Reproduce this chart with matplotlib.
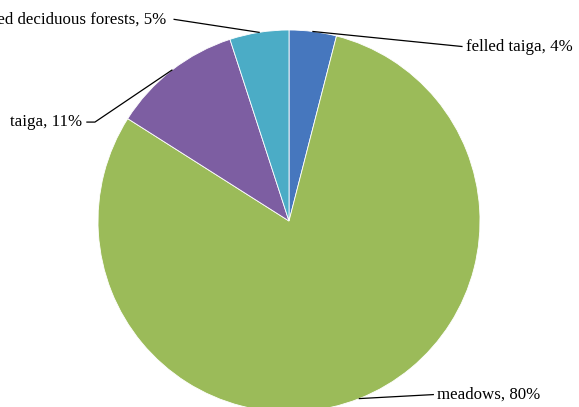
import numpy as np
import matplotlib
matplotlib.use("Agg")
import matplotlib.pyplot as plt

labels = ['felled taiga', 'meadows', 'taiga', 'mixed deciduous forests']
shares = [4, 80, 11, 5]
colors = ['#4677BE', '#9BBB59', '#7D5EA2', '#4BACC6']

# text offsets (pixels) from the slice edge, and alignment
label_pos = [(153, -15, 'left'), (78, 4, 'left'), (-87, -52, 'right'), (-90, 13, 'right')]

W, H = 579, 407
fig = plt.figure(figsize=(W / 100, H / 100), dpi=100)
ax = fig.add_axes([0, 0, 1, 1])
ax.set_xlim(0, W)
ax.set_ylim(0, H)
ax.set_aspect('equal')
ax.axis('off')

cx, cy, r = 289, H - 221, 191
wedges, _ = ax.pie(shares, colors=colors, startangle=90, counterclock=False,
                   center=(cx, cy), radius=r,
                   wedgeprops=dict(edgecolor='white', linewidth=0.6))
ax.set_xlim(0, W)
ax.set_ylim(0, H)

for w, lab, val, (dx, dy, ha) in zip(wedges, labels, shares, label_pos):
    ang = np.deg2rad((w.theta1 + w.theta2) / 2)
    x0 = cx + r * np.cos(ang)
    y0 = cy + r * np.sin(ang)
    tx, ty = x0 + dx, y0 + dy
    if ha == 'left':
        pts = [(x0, y0), (tx - 4, ty)]
    else:
        pts = [(x0, y0), (tx + 10, ty), (tx + 2, ty)]
        if lab.startswith('mixed'):
            pts = [(x0, y0), (tx + 5, ty)]
    xs, ys = zip(*pts)
    ax.plot(xs, ys, color='black', linewidth=0.9, clip_on=False)
    ax.text(tx if ha == 'left' else tx - 3, ty, f'{lab}, {val}%', ha=ha, va='center',
            fontsize=12.2, family=['Liberation Serif', 'DejaVu Serif'])

fig.savefig('out.png', dpi=100)
